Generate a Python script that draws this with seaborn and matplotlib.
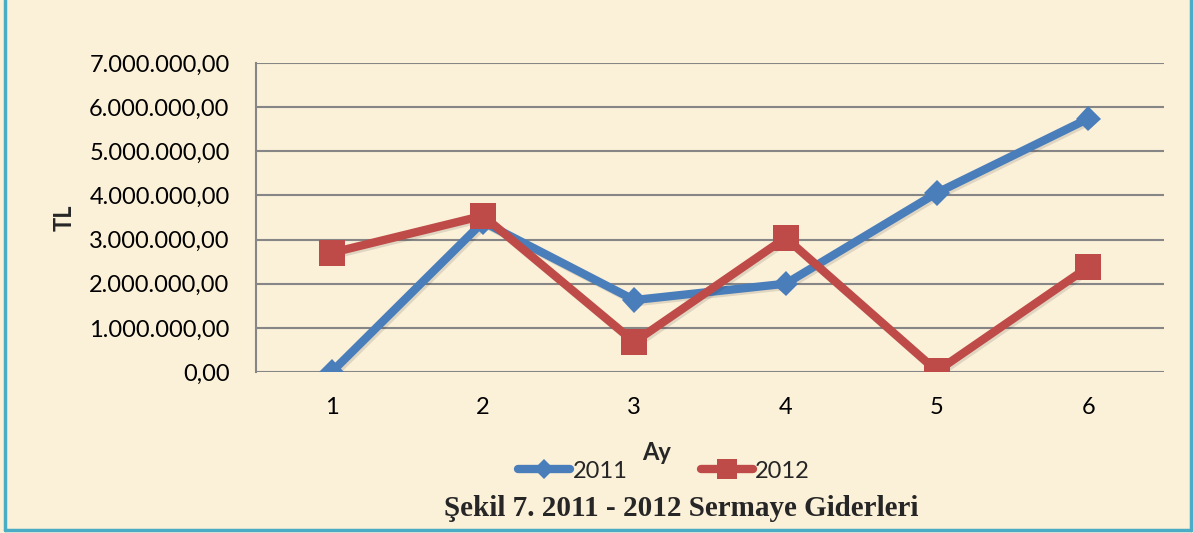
import matplotlib
matplotlib.use("Agg")
import matplotlib.pyplot as plt
import matplotlib.patheffects as pe
from matplotlib.ticker import FuncFormatter
from matplotlib.lines import Line2D
import seaborn as sns
import pandas as pd

months = [1, 2, 3, 4, 5, 6]
values_2011 = [0, 3400000, 1630000, 2000000, 4060000, 5740000]
values_2012 = [2700000, 3540000, 680000, 3040000, 20000, 2380000]
series_names = ["2011", "2012"]
y_ticks = [0, 1000000, 2000000, 3000000, 4000000, 5000000, 6000000, 7000000]

df = pd.DataFrame({
    "Ay": months * 2,
    "TL": values_2011 + values_2012,
    "Yıl": [series_names[0]] * 6 + [series_names[1]] * 6,
})

W, H = 1193, 533
bg = "#FBF0D8"
sns.set_theme(style="white")
plt.rcParams["font.family"] = ["Lato", "DejaVu Sans"]

fig = plt.figure(figsize=(W / 100, H / 100), dpi=100, facecolor=bg)
ax = fig.add_axes([256 / W, 1 - 372 / H, (1164 - 256) / W, (372 - 63) / H])
ax.set_facecolor("none")

palette = {"2011": "#4A7EBB", "2012": "#BE4B48"}
markers = {"2011": "D", "2012": "s"}
sizes = {"2011": 13, "2012": 18.5}
sns.lineplot(data=df, x="Ay", y="TL", hue="Yıl", style="Yıl", palette=palette,
             markers=markers, dashes=False, linewidth=6, markersize=15,
             markeredgewidth=0, ax=ax, legend=False, zorder=3)
for ln, name in zip(ax.lines, series_names):
    ln.set_markersize(sizes[name])
    ln.set_path_effects([pe.SimpleLineShadow(offset=(1.5, -1.5), alpha=0.12), pe.Normal()])

ax.set_xlim(0.5, 6.5)
ax.set_ylim(0, 7000000)
ax.set_yticks(y_ticks)
ax.set_xticks(months)
ax.yaxis.set_major_formatter(FuncFormatter(
    lambda v, p: f"{v:,.2f}".replace(",", "X").replace(".", ",").replace("X", ".")))
ax.grid(axis="y", color="#868686", linewidth=1.5)
ax.grid(axis="x", visible=False)
for s in ["top", "right", "bottom"]:
    ax.spines[s].set_visible(False)
ax.spines["left"].set_color("#868686")
ax.spines["left"].set_linewidth(1.5)
ax.tick_params(axis="both", labelsize=17, colors="#000000", length=0)
ax.tick_params(axis="y", pad=19)
ax.tick_params(axis="x", pad=18)
ax.set_xlabel("")
ax.set_ylabel("")

fig.text(657 / W, 1 - 452 / H, "Ay", ha="center", va="center", fontsize=17, fontweight="bold")
fig.text(64 / W, 1 - 218 / H, "TL", ha="center", va="center", fontsize=17,
         fontweight="bold", rotation=90)

handles = [Line2D([], [], color=palette[n], marker=markers[n], linewidth=6,
                  markersize=sizes[n] * 0.75, markeredgewidth=0, solid_capstyle="round")
           for n in series_names]
fig.legend(handles, series_names, loc="center", bbox_to_anchor=(664 / W, 1 - 471 / H),
           ncol=2, frameon=False, fontsize=17, handlelength=2.2, handletextpad=0.1,
           columnspacing=3.1)

fig.text(681 / W, 1 - 508 / H, "Şekil 7. 2011 - 2012 Sermaye Giderleri",
         ha="center", va="center", fontsize=21, fontweight="bold",
         family=["Liberation Serif", "DejaVu Serif"])

border = "#4BACC6"
for xs, ys in [([5, 5], [0, 530]), ([1191, 1191], [0, 530]), ([5, 1191], [530, 530])]:
    fig.add_artist(Line2D([x / W for x in xs], [1 - y / H for y in ys],
                          transform=fig.transFigure, color=border, linewidth=2.5))

fig.savefig("out.png", dpi=100, facecolor=bg)
